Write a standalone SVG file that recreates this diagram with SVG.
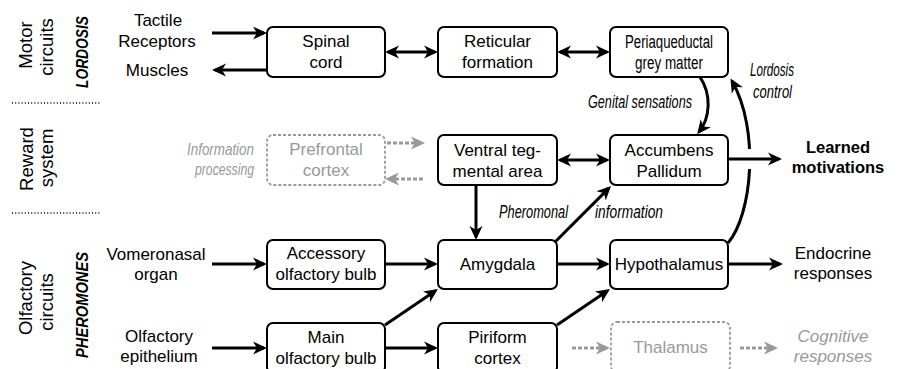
<svg xmlns="http://www.w3.org/2000/svg" width="899" height="369" viewBox="0 0 899 369">
<style>
.box{fill:#fff;stroke:#000;stroke-width:2}
.gbox{fill:#fff;stroke:#999;stroke-width:1.8;stroke-dasharray:3 2}
text{font-family:"Liberation Sans",Arial,sans-serif;font-size:17px;fill:#000}
.c{text-anchor:middle}
.it{font-style:italic;font-size:17px}
.ci{font-size:18px}
.g{fill:#999}
.b{font-weight:bold}
.side{font-size:18.5px}
.cond{font-size:18px}
.arr{stroke:#000;stroke-width:3;fill:none;marker-end:url(#ah)}
.bi{marker-start:url(#ah)}
.darr{stroke:#999;stroke-width:3;fill:none;stroke-dasharray:4 2;marker-end:url(#gah)}
.sep{stroke:#000;stroke-width:1.5;stroke-dasharray:1 2.2}
</style>
<defs>
<marker id="ah" viewBox="0 0 14 14" refX="11" refY="7" markerWidth="14" markerHeight="14" markerUnits="userSpaceOnUse" orient="auto-start-reverse"><path d="M0,0.5 L14,7 L0,13.5 L4,7 Z" fill="#000"/></marker>
<marker id="gah" viewBox="0 0 14 14" refX="11" refY="7" markerWidth="14" markerHeight="14" markerUnits="userSpaceOnUse" orient="auto-start-reverse"><path d="M0,0.5 L14,7 L0,13.5 L4,7 Z" fill="#999"/></marker>
</defs>

<g id="side-labels">
<text transform="translate(32,45) rotate(-90)" class="c side">Motor</text>
<text transform="translate(53,47) rotate(-90)" class="c side">circuits</text>
<text transform="translate(88,52) rotate(-90)" class="c b it" textLength="72" lengthAdjust="spacingAndGlyphs">LORDOSIS</text>
<line class="sep" x1="12" y1="103" x2="100" y2="103"/>
<text transform="translate(33,159) rotate(-90)" class="c side">Reward</text>
<text transform="translate(53,158) rotate(-90)" class="c side">system</text>
<line class="sep" x1="12" y1="213" x2="100" y2="213"/>
<text transform="translate(32,298) rotate(-90)" class="c side">Olfactory</text>
<text transform="translate(53,302) rotate(-90)" class="c side">circuits</text>
<text transform="translate(88,305) rotate(-90)" class="c b it" textLength="106" lengthAdjust="spacingAndGlyphs">PHEROMONES</text>
</g>

<g id="inputs">
<text x="158" y="26" class="c">Tactile</text>
<text x="157" y="47" class="c">Receptors</text>
<text x="157" y="76" class="c">Muscles</text>
<text x="156" y="260" class="c">Vomeronasal</text>
<text x="156" y="280" class="c">organ</text>
<text x="159" y="342" class="c">Olfactory</text>
<text x="159" y="362" class="c">epithelium</text>
<text x="254" y="155" class="it g" text-anchor="end" textLength="67" lengthAdjust="spacingAndGlyphs">Information</text>
<text x="254" y="175" class="it g" text-anchor="end" textLength="59" lengthAdjust="spacingAndGlyphs">processing</text>
</g>

<g id="outputs">
<text x="838" y="153" class="c b" style="font-size:16.5px">Learned</text>
<text x="838" y="173" class="c b" style="font-size:16.5px">motivations</text>
<text x="833" y="259" class="c">Endocrine</text>
<text x="833" y="279" class="c">responses</text>
<text x="833" y="342" class="c it g">Cognitive</text>
<text x="833" y="362" class="c it g">responses</text>
</g>

<g id="connectors">
<path class="arr" d="M728 243 C 752 215, 760 130, 732 81"/>
<rect x="740" y="149" width="20" height="20" fill="#fff"/>
<path class="arr" d="M212 33 L264 33"/>
<path class="arr" d="M267 70 L215 70"/>
<path class="arr bi" d="M388 52 L435 52"/>
<path class="arr bi" d="M560 52 L607 52"/>
<path class="arr bi" d="M560 160 L607 160"/>
<path class="arr" d="M476 185 L476 237"/>
<path class="arr" d="M728 159 L779 159"/>
<path class="arr" d="M212 264 L264 264"/>
<path class="arr" d="M385 264 L435 264"/>
<path class="arr" d="M557 264 L607 264"/>
<path class="arr" d="M728 264 L780 264"/>
<path class="arr" d="M212 348 L264 348"/>
<path class="arr" d="M385 348 L435 348"/>
<path class="arr" d="M385 325 L435.5 290.7"/>
<path class="arr" d="M557 325 L607.5 290.7"/>
<path class="arr" d="M554 243 L608.9 188.1"/>
<path class="arr" d="M700 77 C 712 95, 710 118, 699 132"/>
<path class="darr" d="M387 143 L422 143"/>
<path class="darr" d="M423 179 L388 179"/>
<path class="darr" d="M572 348 L607 348"/>
<path class="darr" d="M740 348 L775 348"/>
<text x="588" y="108" class="it ci" textLength="104" lengthAdjust="spacingAndGlyphs">Genital sensations</text>
<text x="772" y="76" class="c it ci" textLength="44" lengthAdjust="spacingAndGlyphs">Lordosis</text>
<text x="772.5" y="98" class="c it ci" textLength="39" lengthAdjust="spacingAndGlyphs">control</text>
<text x="499" y="218" class="it ci" textLength="69" lengthAdjust="spacingAndGlyphs">Pheromonal</text>
<text x="595" y="218" class="it ci" textLength="68" lengthAdjust="spacingAndGlyphs">information</text>
</g>

<g id="spinal-cord"><rect class="box" x="267" y="27" width="118" height="50" rx="6"/><text x="326" y="47" class="c">Spinal</text><text x="326" y="68" class="c">cord</text></g>
<g id="reticular-formation"><rect class="box" x="438" y="27" width="119" height="50" rx="6"/><text x="497.5" y="47" class="c">Reticular</text><text x="497.5" y="68" class="c">formation</text></g>
<g id="periaqueductal"><rect class="box" x="610" y="27" width="118" height="50" rx="6"/><text x="669" y="48" class="c cond" textLength="88" lengthAdjust="spacingAndGlyphs">Periaqueductal</text><text x="669" y="69" class="c cond" textLength="68" lengthAdjust="spacingAndGlyphs">grey matter</text></g>
<g id="prefrontal-cortex"><rect class="gbox" x="267" y="135" width="118" height="50" rx="6"/><text x="326" y="155" class="c g">Prefrontal</text><text x="326" y="176" class="c g">cortex</text></g>
<g id="ventral-tegmental"><rect class="box" x="438" y="135" width="119" height="50" rx="6"/><text x="497.5" y="156" class="c">Ventral teg-</text><text x="497.5" y="177" class="c">mental area</text></g>
<g id="accumbens"><rect class="box" x="610" y="135" width="118" height="50" rx="6"/><text x="669" y="156" class="c">Accumbens</text><text x="669" y="177" class="c">Pallidum</text></g>
<g id="accessory-olfactory-bulb"><rect class="box" x="267" y="240" width="118" height="49" rx="6"/><text x="326" y="259" class="c">Accessory</text><text x="326" y="280" class="c">olfactory bulb</text></g>
<g id="amygdala"><rect class="box" x="438" y="240" width="119" height="49" rx="6"/><text x="497.5" y="270" class="c">Amygdala</text></g>
<g id="hypothalamus"><rect class="box" x="610" y="240" width="118" height="49" rx="6"/><text x="669" y="270" class="c">Hypothalamus</text></g>
<g id="main-olfactory-bulb"><rect class="box" x="267" y="323" width="118" height="50" rx="6"/><text x="326" y="343" class="c">Main</text><text x="326" y="364" class="c">olfactory bulb</text></g>
<g id="piriform-cortex"><rect class="box" x="438" y="323" width="119" height="50" rx="6"/><text x="497.5" y="343" class="c">Piriform</text><text x="497.5" y="364" class="c">cortex</text></g>
<g id="thalamus"><rect class="gbox" x="611" y="322" width="119" height="50" rx="6"/><text x="670.5" y="353" class="c g">Thalamus</text></g>
</svg>
